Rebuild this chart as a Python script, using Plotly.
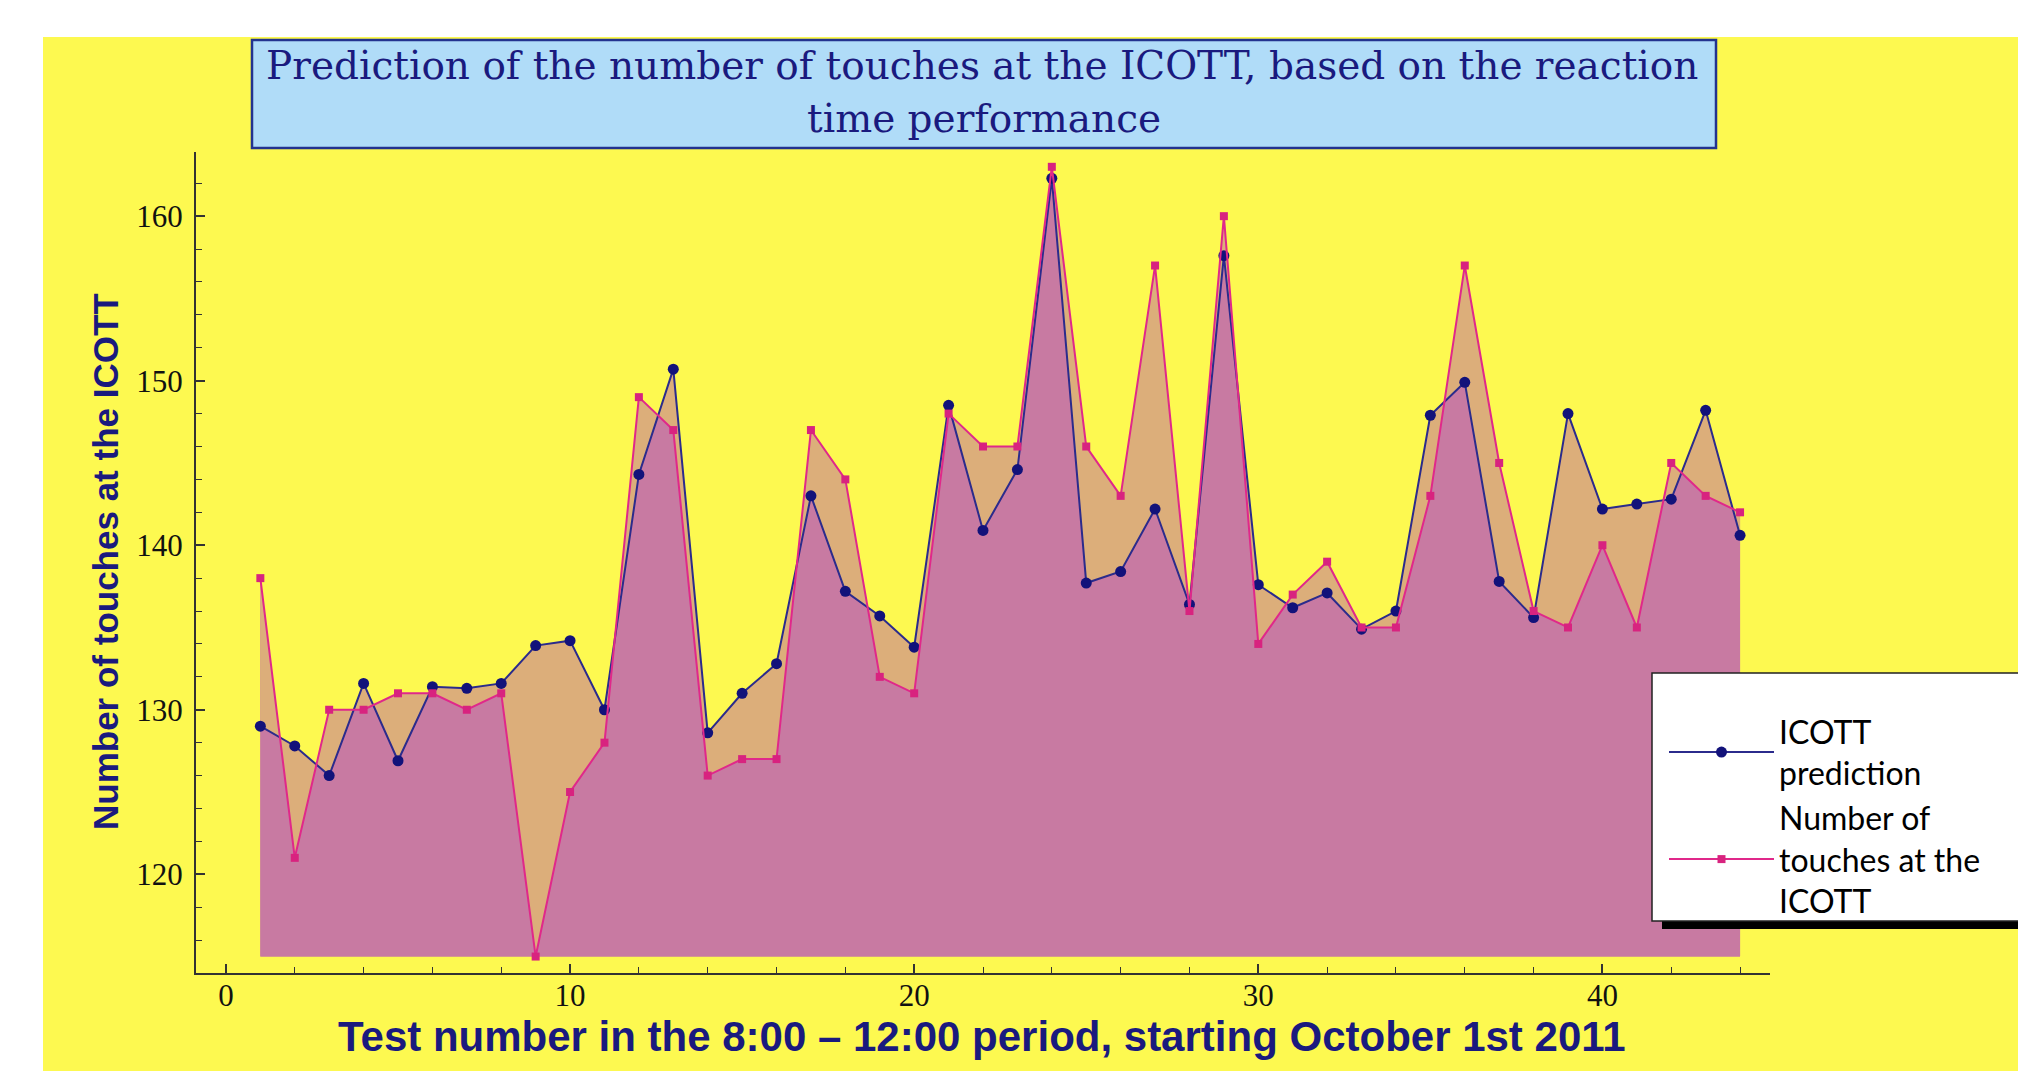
import plotly.graph_objects as go

# test number within the 8:00 - 12:00 period
test_number = list(range(1, 45))

icott_prediction = [129.0, 127.8, 126.0, 131.6, 126.9, 131.4, 131.3, 131.6, 133.9, 134.2,
                    130.0, 144.3, 150.7, 128.6, 131.0, 132.8, 143.0, 137.2, 135.7, 133.8,
                    148.5, 140.9, 144.6, 162.3, 137.7, 138.4, 142.2, 136.4, 157.6, 137.6,
                    136.2, 137.1, 134.9, 136.0, 147.9, 149.9, 137.8, 135.6, 148.0, 142.2,
                    142.5, 142.8, 148.2, 140.6]

icott_touches = [138, 121, 130, 130, 131, 131, 130, 131, 115, 125,
                 128, 149, 147, 126, 127, 127, 147, 144, 132, 131,
                 148, 146, 146, 163, 146, 143, 157, 136, 160, 134,
                 137, 139, 135, 135, 143, 157, 145, 136, 135, 140,
                 135, 145, 143, 142]

x_ticks = [0, 10, 20, 30, 40]
y_ticks = [120, 130, 140, 150, 160]

FILL_BASE = 115

W, H = 2026, 1071
PAGE_OFFSET = 8  # the html body margin shifts the figure by 8px
# plot area in screen pixels: left 196, right 1770, top 152, bottom 973
MARGIN = dict(l=196 - PAGE_OFFSET, r=W - (1770 - PAGE_OFFSET),
              t=152 - PAGE_OFFSET, b=H - (973 - PAGE_OFFSET))

YELLOW = "#fdf950"
TAN = "#dcae7a"
PURPLE = "#c87aa2"
NAVY = "#1a1a7e"
BLUE_LINE = "#2b2b8c"
PINK = "#e0288a"
BOX_BLUE = "#b0dcf8"
AXIS = "#333333"


def px_x(px):
    """screen pixel -> paper x"""
    return (px - PAGE_OFFSET - MARGIN["l"]) / (W - MARGIN["l"] - MARGIN["r"])


def px_y(py):
    """screen pixel -> paper y"""
    return (H - MARGIN["b"] - (py - PAGE_OFFSET)) / (H - MARGIN["t"] - MARGIN["b"])


def hidden(y, fill=None, color=None):
    """Invisible helper trace used only to build the filled areas."""
    return go.Scatter(x=test_number, y=y, mode="lines", line=dict(width=0),
                      fill=fill, fillcolor=color, showlegend=False, hoverinfo="skip")


base = [FILL_BASE] * len(test_number)

fig = go.Figure()
# area under each curve -> union is purple
fig.add_trace(hidden(base))
fig.add_trace(hidden(icott_touches, "tonexty", PURPLE))
fig.add_trace(hidden(base))
fig.add_trace(hidden(icott_prediction, "tonexty", PURPLE))
# area between the curves painted over in tan
fig.add_trace(hidden(icott_touches))
fig.add_trace(hidden(icott_prediction, "tonexty", TAN))

fig.add_trace(go.Scatter(x=test_number, y=icott_prediction, mode="lines+markers",
                         name="ICOTT<br>prediction",
                         line=dict(color=BLUE_LINE, width=2),
                         marker=dict(symbol="circle", size=11, color="#12127a")))
fig.add_trace(go.Scatter(x=test_number, y=icott_touches, mode="lines+markers",
                         name="Number of<br>touches at the<br>ICOTT",
                         line=dict(color=PINK, width=2),
                         marker=dict(symbol="square", size=8, color="#d8237f")))

axis_common = dict(showline=True, linecolor=AXIS, linewidth=2, mirror=False,
                   showgrid=False, zeroline=False, ticks="inside", ticklen=9,
                   tickwidth=1.5, tickcolor=AXIS,
                   tickfont=dict(family="Liberation Serif", size=31, color="#111111"),
                   minor=dict(tickmode="linear", tick0=0, dtick=2, ticks="inside",
                              ticklen=6, tickwidth=1.2, tickcolor=AXIS))

fig.update_xaxes(range=[-0.87, 44.87], tickmode="array", tickvals=x_ticks,
                 ticklabelstandoff=-6, **axis_common)
fig.update_yaxes(range=[114.0, 163.9], tickmode="array", tickvals=y_ticks,
                 ticklabelstandoff=5, **axis_common)

shapes = [
    # yellow page behind the chart, white strips on top and left
    dict(type="rect", xref="paper", yref="paper", layer="below",
         x0=px_x(43), x1=px_x(W + 20), y0=px_y(37), y1=px_y(H + 20),
         fillcolor=YELLOW, line=dict(width=0)),
    # title box
    dict(type="rect", xref="paper", yref="paper", layer="below",
         x0=px_x(252), x1=px_x(1716), y0=px_y(148), y1=px_y(40),
         fillcolor=BOX_BLUE, line=dict(color="#23338f", width=2.5)),
    # legend shadow and box
    dict(type="rect", xref="paper", yref="paper", layer="above",
         x0=px_x(1662), x1=px_x(W + 20), y0=px_y(929), y1=px_y(683),
         fillcolor="black", line=dict(width=0)),
    dict(type="rect", xref="paper", yref="paper", layer="above",
         x0=px_x(1652), x1=px_x(W + 20), y0=px_y(921), y1=px_y(673),
         fillcolor="white", line=dict(color="#222222", width=1.5)),
]

annotations = [
    dict(text="Prediction of the number of touches at the ICOTT, based on the reaction",
         x=px_x(982), y=px_y(65), xref="paper", yref="paper", showarrow=False,
         xanchor="center", yanchor="middle",
         font=dict(family="DejaVu Serif", size=39, color=NAVY)),
    dict(text="time performance",
         x=px_x(984), y=px_y(118), xref="paper", yref="paper", showarrow=False,
         xanchor="center", yanchor="middle",
         font=dict(family="DejaVu Serif", size=39, color=NAVY)),
    dict(text="<b>Number of touches at the ICOTT</b>", textangle=-90,
         x=px_x(105), y=px_y(562), xref="paper", yref="paper", showarrow=False,
         xanchor="center", yanchor="middle",
         font=dict(family="Liberation Sans", size=35, color=NAVY)),
    dict(text="<b>Test number in the 8:00 \u2013 12:00 period, starting October 1st 2011</b>",
         x=px_x(982), y=px_y(1036), xref="paper", yref="paper", showarrow=False,
         xanchor="center", yanchor="middle",
         font=dict(family="Liberation Sans", size=42, color=NAVY)),
]

fig.update_layout(
    width=W, height=H,
    margin=dict(MARGIN, autoexpand=False),
    paper_bgcolor="white",
    plot_bgcolor=YELLOW,
    shapes=shapes,
    annotations=annotations,
    legend=dict(x=px_x(1664), y=px_y(704), xanchor="left", yanchor="top",
                traceorder="normal", bgcolor="rgba(0,0,0,0)", borderwidth=0,
                itemwidth=105, font=dict(family="Lato", size=32, color="black")),
)

fig.write_html("out.html")
